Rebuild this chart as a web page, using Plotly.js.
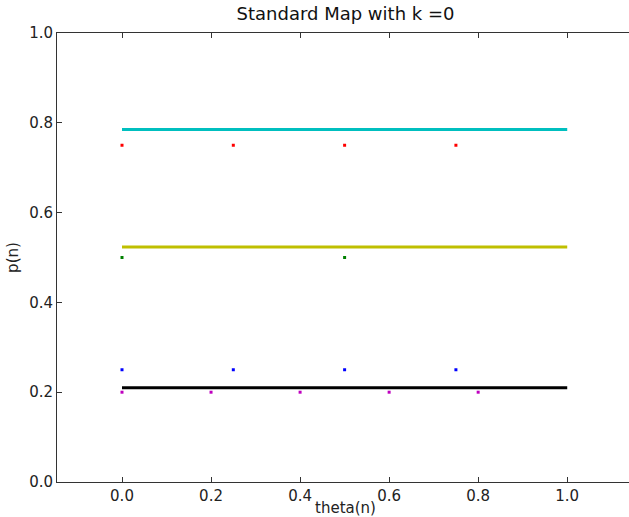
<!DOCTYPE html>
<html>
<head>
<meta charset="utf-8">
<script src="https://cdn.plot.ly/plotly-3.0.1.min.js"></script>
<style>
  html, body { margin: 0; padding: 0; overflow: hidden; background: #fff; }
  #chart { width: 640px; height: 517px; }
</style>
</head>
<body>
<div id="chart"></div>
<script>
// Standard map with k = 0: each orbit keeps a constant momentum p(n)
// while theta(n) advances by p each step (mod 1).

// Continuous orbits (drawn as lines across theta in [0, 1])
const lineTheta = [0, 1];
const lineCyanP = [0.785, 0.785];
const lineYellowP = [0.5236, 0.5236];
const lineBlackP = [0.21, 0.21];

// Periodic orbits (drawn as point sets)
const redTheta = [0, 0.25, 0.5, 0.75];
const redP = [0.75, 0.75, 0.75, 0.75];

const greenTheta = [0, 0.5];
const greenP = [0.5, 0.5];

const blueTheta = [0, 0.25, 0.5, 0.75];
const blueP = [0.25, 0.25, 0.25, 0.25];

const magentaTheta = [0, 0.2, 0.4, 0.6, 0.8];
const magentaP = [0.2, 0.2, 0.2, 0.2, 0.2];

const xTicks = [0, 0.2, 0.4, 0.6, 0.8, 1.0];
const xTickText = ['0.0', '0.2', '0.4', '0.6', '0.8', '1.0'];
const yTicks = [0, 0.2, 0.4, 0.6, 0.8, 1.0];
const yTickText = ['0.0', '0.2', '0.4', '0.6', '0.8', '1.0'];

function lineTrace(y, color) {
  return { x: lineTheta, y: y, mode: 'lines', type: 'scatter',
           line: { color: color, width: 3 }, hoverinfo: 'skip' };
}
function pointTrace(x, y, color) {
  return { x: x, y: y, mode: 'markers', type: 'scatter',
           marker: { color: color, symbol: 'square', size: 3, line: { width: 0 } } };
}

const data = [
  pointTrace(redTheta, redP, '#ff0000'),
  pointTrace(greenTheta, greenP, '#008000'),
  pointTrace(blueTheta, blueP, '#0000ff'),
  pointTrace(magentaTheta, magentaP, '#bf00bf'),
  lineTrace(lineCyanP, '#00bfbf'),
  lineTrace(lineYellowP, '#bfbf00'),
  lineTrace(lineBlackP, '#000000')
];

const font = { family: 'DejaVu Sans', size: 15, color: '#222' };

const layout = {
  width: 640,
  height: 517,
  margin: { l: 57, r: 6, t: 33, b: 35 },
  paper_bgcolor: '#ffffff',
  plot_bgcolor: '#ffffff',
  showlegend: false,
  font: font,
  title: { text: 'Standard Map with k =0', font: { family: 'DejaVu Sans', size: 18, color: '#111' },
           x: 0.5, xref: 'paper', y: 1, yref: 'container', yanchor: 'top', pad: { t: 7 } },
  xaxis: {
    range: [-0.146, 1.15],
    tickvals: xTicks, ticktext: xTickText,
    ticks: 'inside', ticklen: 5, tickcolor: '#333', tickwidth: 1,
    showline: true, linecolor: '#333', linewidth: 1, mirror: 'ticks',
    showgrid: false, zeroline: false,
    tickfont: font,
    title: { text: 'theta(n)', font: font, standoff: 2 }
  },
  yaxis: {
    range: [0, 1],
    tickvals: yTicks, ticktext: yTickText,
    ticks: 'inside', ticklen: 5, tickcolor: '#333', tickwidth: 1,
    showline: true, linecolor: '#333', linewidth: 1, mirror: 'ticks',
    showgrid: false, zeroline: false,
    tickfont: font,
    title: { text: 'p(n)', font: font, standoff: 6 }
  }
};

Plotly.newPlot('chart', data, layout, { displayModeBar: false, staticPlot: true });
</script>
</body>
</html>
